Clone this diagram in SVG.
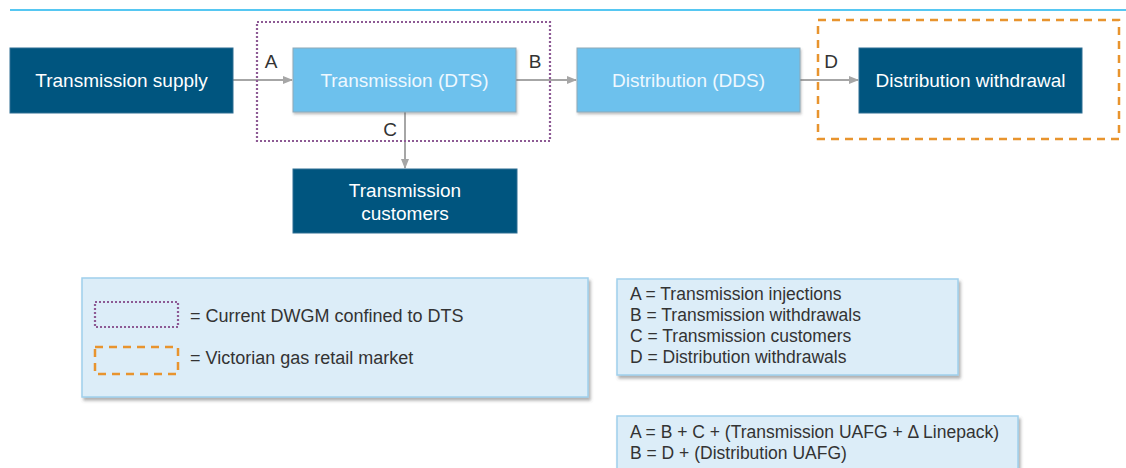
<svg xmlns="http://www.w3.org/2000/svg" width="1126" height="468" viewBox="0 0 1126 468">
<style>
text{font-family:"Liberation Sans",Arial,sans-serif}
.dark{fill:#00557f;stroke:#2f6f93;stroke-width:1}
.light{fill:#6dc1ed;stroke:#8fa9b8;stroke-width:1}
.nt{fill:#ffffff;font-size:19px;text-anchor:middle}
.ntl{fill:#eef8ff;font-size:19px;text-anchor:middle}
.lbl{fill:#333333;font-size:19px;text-anchor:middle}
.conn{stroke:#a6a6a6;stroke-width:2;fill:none}
.panel{fill:#dcedf8;stroke:#9fcfec;stroke-width:1.5}
.pt{fill:#333333;font-size:17.5px}
.lt{fill:#333333;font-size:18px}
.dwgm{fill:none;stroke:#8d5a94;stroke-width:2.2;stroke-dasharray:2 2}
.retail{fill:none;stroke:#e8942e;stroke-width:2.5;stroke-dasharray:8 6}
</style>
<defs>
<marker id="ah" viewBox="0 0 10 10" refX="9" refY="5" markerWidth="5" markerHeight="5" orient="auto" markerUnits="strokeWidth">
<path d="M0,1 L10,5 L0,9 z" fill="#a6a6a6"/>
</marker>
<filter id="sh" x="-5%" y="-10%" width="115%" height="130%">
<feDropShadow dx="2" dy="3" stdDeviation="1.5" flood-color="#555555" flood-opacity="0.45"/>
</filter>
<filter id="shs" x="-5%" y="-10%" width="115%" height="130%">
<feDropShadow dx="1" dy="2" stdDeviation="1" flood-color="#555555" flood-opacity="0.35"/>
</filter>
</defs>
<line x1="10" y1="10" x2="1126" y2="10" stroke="#1eb4ee" stroke-width="1.5"/>

<g id="connectors">
<line class="conn" x1="233" y1="80" x2="292" y2="80" marker-end="url(#ah)"/>
<line class="conn" x1="516" y1="80" x2="576" y2="80" marker-end="url(#ah)"/>
<line class="conn" x1="800" y1="80" x2="858" y2="80" marker-end="url(#ah)"/>
<line class="conn" x1="405" y1="112" x2="405" y2="168" marker-end="url(#ah)"/>
<text class="lbl" x="271" y="68">A</text>
<text class="lbl" x="535" y="68">B</text>
<text class="lbl" x="390" y="136">C</text>
<text class="lbl" x="831" y="68">D</text>
</g>

<g id="transmission-supply">
<rect class="dark" x="10" y="48" width="223" height="65"/>
<text class="nt" x="121.5" y="87">Transmission supply</text>
</g>
<g id="transmission-dts">
<rect class="light" x="293" y="48" width="223" height="64" filter="url(#shs)"/>
<text class="ntl" x="404.5" y="87">Transmission (DTS)</text>
</g>
<g id="distribution-dds">
<rect class="light" x="577" y="48" width="223" height="64" filter="url(#shs)"/>
<text class="ntl" x="688.5" y="87">Distribution (DDS)</text>
</g>
<g id="distribution-withdrawal">
<rect class="dark" x="859" y="48" width="223" height="65"/>
<text class="nt" x="970.5" y="87">Distribution withdrawal</text>
</g>
<g id="transmission-customers">
<rect class="dark" x="293" y="169" width="224" height="64"/>
<text class="nt" x="405" y="197">Transmission</text>
<text class="nt" x="405" y="220">customers</text>
</g>

<g id="dwgm-boundary">
<rect class="dwgm" x="257" y="22" width="293" height="119"/>
</g>
<g id="retail-boundary">
<rect class="retail" x="818" y="20" width="301" height="119"/>
</g>

<g id="legend">
<rect class="panel" x="82" y="278" width="506" height="119" filter="url(#sh)"/>
<rect class="dwgm" x="95" y="302" width="83" height="25"/>
<rect class="retail" x="95" y="347" width="83" height="27"/>
<text class="lt" x="190" y="322">= Current DWGM confined to DTS</text>
<text class="lt" x="190" y="364">= Victorian gas retail market</text>
</g>

<g id="key">
<rect class="panel" x="617" y="279" width="341" height="96" filter="url(#sh)"/>
<text class="pt" x="630" y="300">A = Transmission injections</text>
<text class="pt" x="630" y="321">B = Transmission withdrawals</text>
<text class="pt" x="630" y="342">C = Transmission customers</text>
<text class="pt" x="630" y="363">D = Distribution  withdrawals</text>
</g>

<g id="equations">
<rect class="panel" x="617" y="416" width="401" height="62" filter="url(#sh)"/>
<text class="pt" x="630" y="438">A = B + C + (Transmission UAFG + Δ Linepack)</text>
<text class="pt" x="630" y="459">B = D + (Distribution UAFG)</text>
</g>
</svg>
